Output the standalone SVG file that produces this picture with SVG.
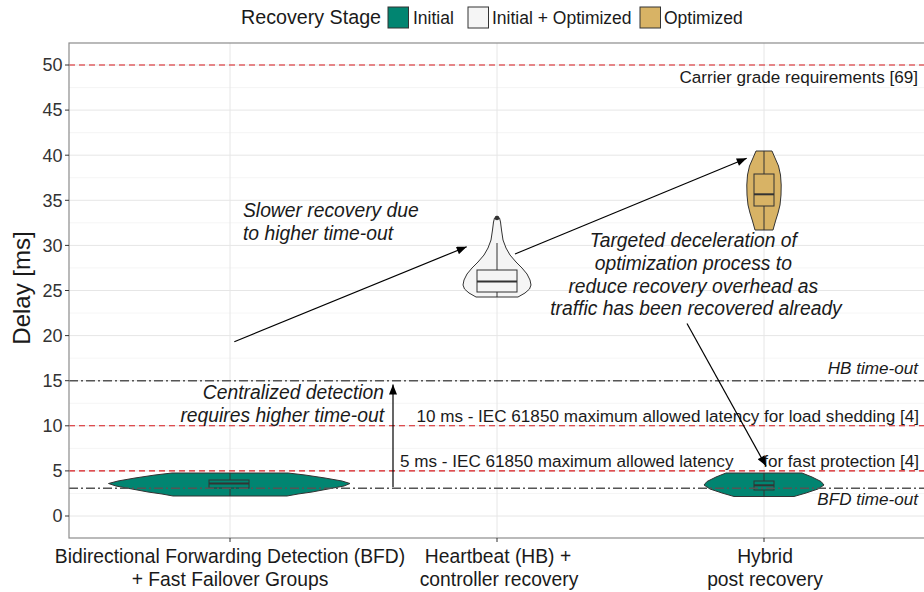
<svg xmlns="http://www.w3.org/2000/svg" width="924" height="592" viewBox="0 0 924 592">
  <style>
    text { font-family: "Liberation Sans", Arial, sans-serif; fill: #1a1a1a; }
    .tick { font-size: 18px; text-anchor: end; fill: #333; }
    .cat { font-size: 19.3px; text-anchor: middle; fill: #1a1a1a; }
    .ann { font-size: 19.3px; font-style: italic; }
    .ref { font-size: 17.1px; }
    .refi { font-size: 17.1px; font-style: italic; text-anchor: end; }
    .leg { font-size: 17.5px; }
    .grid-major { stroke: #e6e6e6; stroke-width: 1; }
    .grid-minor { stroke: #f3f3f3; stroke-width: 0.8; }
    .red { stroke: #d7191c; stroke-width: 1.1; stroke-dasharray: 6 4; fill: none; }
    .dotdash { stroke: #555; stroke-width: 1.4; stroke-dasharray: 9 3 2 3; fill: none; }
    .violin { stroke: #333; stroke-width: 1; stroke-linejoin: round; }
    .box { stroke: #333; stroke-width: 1; }
    .med { stroke: #333; stroke-width: 2; }
    .whisk { stroke: #333; stroke-width: 1; }
    .arrow { stroke: #000; stroke-width: 1.2; fill: none; marker-end: url(#head); }
    .initial { fill: #018571; }
    .both { fill: #f5f5f5; }
    .opt { fill: #d8b365; }
  </style>
  <defs>
    <marker id="head" viewBox="0 0 10 8" refX="10" refY="4" markerWidth="11" markerHeight="8" markerUnits="userSpaceOnUse" orient="auto">
      <path d="M0,0 L10,4 L0,8 z" fill="#000"/>
    </marker>
  </defs>

  <rect width="924" height="592" fill="#fff"/>

  <!-- legend -->
  <g id="legend">
    <text x="241" y="23.5" style="font-size:19.7px">Recovery Stage</text>
    <rect x="388" y="7" width="20.5" height="21" class="initial" stroke="#333" stroke-width="1"/>
    <text class="leg" x="413" y="23.5">Initial</text>
    <rect x="468" y="7" width="20.5" height="21" class="both" stroke="#333" stroke-width="1"/>
    <text class="leg" x="492" y="23.5">Initial + Optimized</text>
    <rect x="640" y="7" width="20.5" height="21" class="opt" stroke="#333" stroke-width="1"/>
    <text class="leg" x="664" y="23.5">Optimized</text>
  </g>

  <!-- panel grid -->
  <g id="grid">
    <g class="grid-minor">
      <line x1="69" y1="493.45" x2="924" y2="493.45"/>
      <line x1="69" y1="448.35" x2="924" y2="448.35"/>
      <line x1="69" y1="403.25" x2="924" y2="403.25"/>
      <line x1="69" y1="358.15" x2="924" y2="358.15"/>
      <line x1="69" y1="313.05" x2="924" y2="313.05"/>
      <line x1="69" y1="267.95" x2="924" y2="267.95"/>
      <line x1="69" y1="222.85" x2="924" y2="222.85"/>
      <line x1="69" y1="177.75" x2="924" y2="177.75"/>
      <line x1="69" y1="132.65" x2="924" y2="132.65"/>
      <line x1="69" y1="87.55" x2="924" y2="87.55"/>
    </g>
    <g class="grid-major">
      <line x1="69" y1="516" x2="924" y2="516"/>
      <line x1="69" y1="470.9" x2="924" y2="470.9"/>
      <line x1="69" y1="425.8" x2="924" y2="425.8"/>
      <line x1="69" y1="380.7" x2="924" y2="380.7"/>
      <line x1="69" y1="335.6" x2="924" y2="335.6"/>
      <line x1="69" y1="290.5" x2="924" y2="290.5"/>
      <line x1="69" y1="245.4" x2="924" y2="245.4"/>
      <line x1="69" y1="200.3" x2="924" y2="200.3"/>
      <line x1="69" y1="155.2" x2="924" y2="155.2"/>
      <line x1="69" y1="110.1" x2="924" y2="110.1"/>
      <line x1="69" y1="65" x2="924" y2="65"/>
      <line x1="230" y1="43" x2="230" y2="538"/>
      <line x1="497" y1="43" x2="497" y2="538"/>
      <line x1="764" y1="43" x2="764" y2="538"/>
    </g>
  </g>

  <!-- BFD + fast failover: initial stage -->
  <g id="violin-bfd">
    <polygon class="violin initial" points="172,473 288,473 305,475 325,478 342,481 350,483.5 344,486 328,489 312,492 298,494 287,496 173,496 162,494 148,492 132,489 116,486 108.5,483.5 118,481 135,478 155,475"/>
    <line class="whisk" x1="230" y1="473" x2="230" y2="496"/>
    <rect class="box initial" x="209" y="480" width="40" height="8"/>
    <line class="med" x1="209" y1="483.5" x2="249" y2="483.5"/>
  </g>

  <!-- Heartbeat + controller recovery -->
  <g id="violin-hb">
    <polygon class="violin both" points="497,216 499.5,218 500.5,222 501.5,230 503,240 506,248 510,255 516,262 522,268 527,274 530,280 531,285 529.5,289 525,293 518,297 476,297 469,293 464.5,289 463,285 464,280 467,274 472,268 478,262 484,255 488,248 491,240 492.5,230 493.5,222 494.5,218"/>
    <line class="whisk" x1="497" y1="243" x2="497" y2="297"/>
    <rect class="box both" x="477" y="270" width="40" height="22"/>
    <line class="med" x1="477" y1="281.5" x2="517" y2="281.5"/>
    <circle cx="497" cy="218" r="2.3" fill="#333"/>
  </g>

  <!-- Hybrid: optimized stage -->
  <g id="violin-hybrid-opt">
    <polygon class="violin opt" points="756,151 772,151 775,158 778.5,166 780.5,175 781.2,185 781,195 780,205 778,213 775.5,221 773,230 755,230 752.5,221 750,213 748,205 747,195 746.8,185 747.5,175 749.5,166 753,158"/>
    <line class="whisk" x1="764" y1="151" x2="764" y2="230"/>
    <rect class="box opt" x="754" y="174" width="20" height="32"/>
    <line class="med" x1="754" y1="194.3" x2="774" y2="194.3"/>
  </g>

  <!-- Hybrid: initial stage -->
  <g id="violin-hybrid-init">
    <polygon class="violin initial" points="726,473 802,473 812,477 821,481.5 824,485 818,489 806,493 794,496.5 734,496.5 722,493 710,489 704,485 707,481.5 716,477"/>
    <line class="whisk" x1="764" y1="473" x2="764" y2="496.5"/>
    <rect class="box initial" x="754" y="481" width="20" height="9"/>
    <line class="med" x1="754" y1="485.3" x2="774" y2="485.3"/>
  </g>

  <!-- reference lines -->
  <g id="reference-lines">
    <line class="red" x1="69" y1="65" x2="924" y2="65"/>
    <line class="red" x1="69" y1="425.8" x2="924" y2="425.8"/>
    <line class="red" x1="69" y1="470.9" x2="924" y2="470.9"/>
    <line class="dotdash" x1="69" y1="380.7" x2="924" y2="380.7"/>
    <line class="dotdash" x1="69" y1="488.3" x2="924" y2="488.3"/>
    <text class="ref" x="918" y="83" text-anchor="end">Carrier grade requirements [69]</text>
    <text class="refi" x="918" y="373.5">HB time-out</text>
    <text class="ref" x="919" y="421.5" text-anchor="end">10 ms - IEC 61850 maximum allowed latency for load shedding [4]</text>
    <text class="ref" x="400" y="467">5 ms - IEC 61850 maximum allowed latency</text>
    <text class="ref" x="919" y="467" text-anchor="end">for fast protection [4]</text>
    <text class="refi" x="918" y="504.5">BFD time-out</text>
  </g>

  <!-- annotation arrows -->
  <g id="connectors">
    <line class="arrow" x1="234.3" y1="341.7" x2="466.7" y2="246.7"/>
    <line class="arrow" x1="515" y1="254" x2="746.7" y2="158.3"/>
    <line class="arrow" x1="393" y1="487" x2="393" y2="384.5"/>
    <line class="arrow" x1="687" y1="323.5" x2="766" y2="466"/>
  </g>

  <!-- annotation texts -->
  <g id="annotations">
    <text class="ann" x="243" y="217">Slower recovery due</text>
    <text class="ann" x="243" y="240">to higher time-out</text>
    <text class="ann" x="384" y="399" text-anchor="end">Centralized detection</text>
    <text class="ann" x="384" y="422" text-anchor="end">requires higher time-out</text>
    <text class="ann" text-anchor="middle">
      <tspan x="696" y="247">Targeted deceleration of</tspan>
      <tspan x="696" y="269.5">optimization process to</tspan>
      <tspan x="696" y="292.5">reduce recovery overhead as</tspan>
      <tspan x="696" y="315">traffic has been recovered already</tspan>
    </text>
  </g>

  <!-- panel border and axes -->
  <g id="axes">
    <rect x="69" y="43" width="860" height="495" fill="none" stroke="#8c8c8c" stroke-width="1.2"/>
    <g stroke="#333" stroke-width="1">
      <line x1="65" y1="516" x2="69" y2="516"/>
      <line x1="65" y1="470.9" x2="69" y2="470.9"/>
      <line x1="65" y1="425.8" x2="69" y2="425.8"/>
      <line x1="65" y1="380.7" x2="69" y2="380.7"/>
      <line x1="65" y1="335.6" x2="69" y2="335.6"/>
      <line x1="65" y1="290.5" x2="69" y2="290.5"/>
      <line x1="65" y1="245.4" x2="69" y2="245.4"/>
      <line x1="65" y1="200.3" x2="69" y2="200.3"/>
      <line x1="65" y1="155.2" x2="69" y2="155.2"/>
      <line x1="65" y1="110.1" x2="69" y2="110.1"/>
      <line x1="65" y1="65" x2="69" y2="65"/>
      <line x1="230" y1="538" x2="230" y2="542"/>
      <line x1="497" y1="538" x2="497" y2="542"/>
      <line x1="764" y1="538" x2="764" y2="542"/>
    </g>
    <text class="tick" x="62.5" y="522.3">0</text>
    <text class="tick" x="62.5" y="477.2">5</text>
    <text class="tick" x="62.5" y="432.1">10</text>
    <text class="tick" x="62.5" y="387">15</text>
    <text class="tick" x="62.5" y="341.9">20</text>
    <text class="tick" x="62.5" y="296.8">25</text>
    <text class="tick" x="62.5" y="251.7">30</text>
    <text class="tick" x="62.5" y="206.6">35</text>
    <text class="tick" x="62.5" y="161.5">40</text>
    <text class="tick" x="62.5" y="116.4">45</text>
    <text class="tick" x="62.5" y="71.3">50</text>
    <text transform="translate(30,288) rotate(-90)" text-anchor="middle" style="font-size:24px">Delay [ms]</text>
    <text class="cat" x="230" y="563">Bidirectional Forwarding Detection (BFD)</text>
    <text class="cat" x="230" y="586">+ Fast Failover Groups</text>
    <text class="cat" x="498" y="563">Heartbeat (HB) +</text>
    <text class="cat" x="499" y="586">controller recovery</text>
    <text class="cat" x="765" y="563">Hybrid</text>
    <text class="cat" x="765" y="586">post recovery</text>
  </g>
</svg>
